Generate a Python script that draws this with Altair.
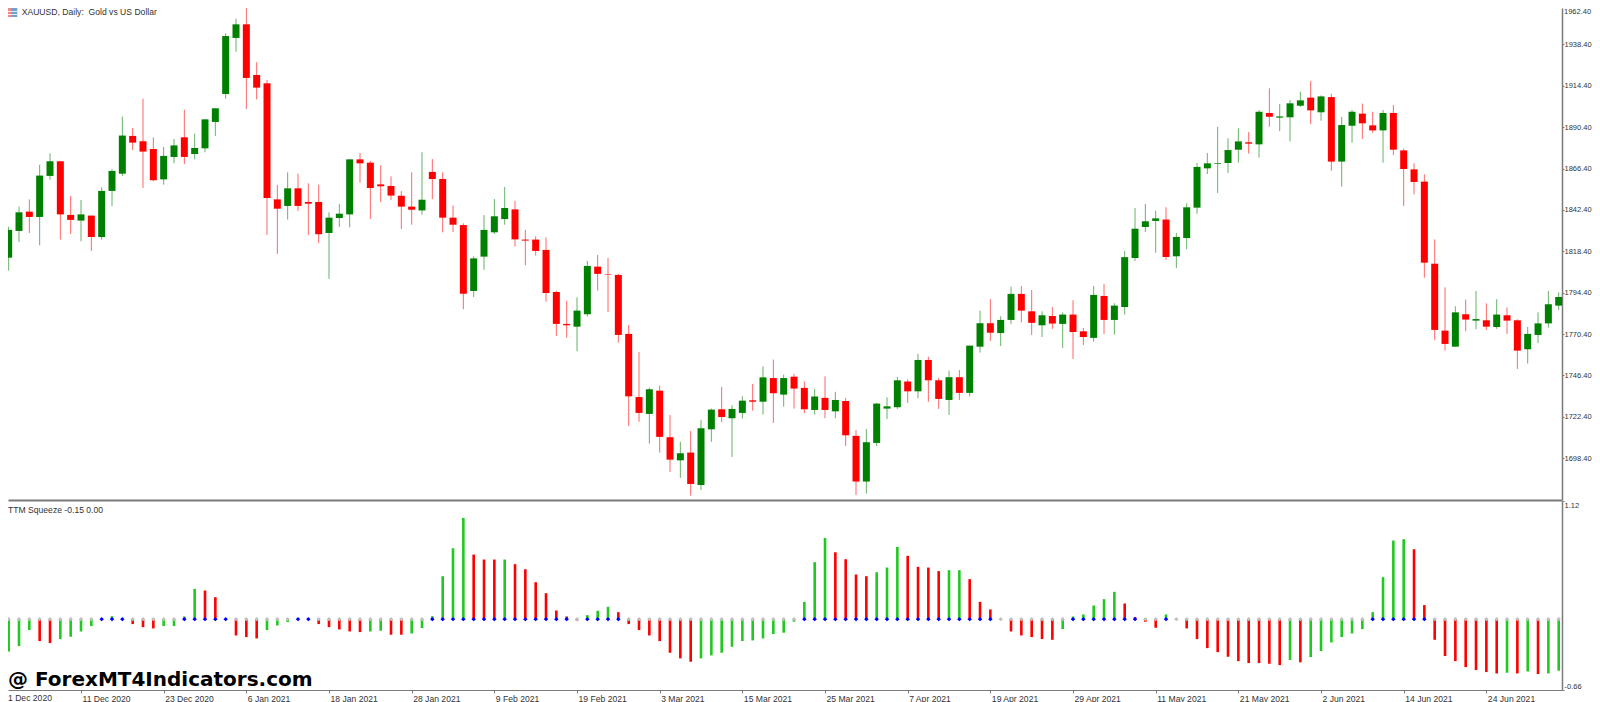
import altair as alt
import pandas as pd

opens = [1781.5,1814.7,1830.2,1841.4,1838.3,1862.1,1870.6,1839.5,1836.2,1839.1,
1826.7,1853.4,1863.4,1885.3,1882.2,1877.7,1860.1,1873.1,1884.5,1874.8,
1878.1,1893.4,1909.6,1942.1,1950.0,1920.6,1915.8,1848.5,1844.7,1854.9,
1847.0,1847.0,1829.0,1837.7,1839.8,1871.7,1869.8,1857.2,1856.3,1850.6,
1844.3,1842.1,1864.4,1860.3,1837.9,1833.6,1795.4,1815.3,1829.4,1837.1,
1842.7,1825.2,1825.2,1819.2,1794.8,1776.3,1774.7,1781.9,1809.5,1805.0,
1804.7,1770.5,1733.9,1724.1,1737.6,1710.6,1697.2,1701.7,1682.9,1715.2,
1726.8,1721.6,1724.7,1732.0,1731.2,1744.9,1735.3,1745.7,1739.2,1726.4,
1733.4,1725.6,1731.6,1711.4,1684.9,1707.3,1727.2,1728.0,1742.9,1737.2,
1755.4,1743.6,1732.2,1745.4,1736.3,1763.1,1776.7,1771.0,1778.6,1793.7,
1783.6,1775.5,1780.9,1776.3,1781.7,1772.0,1768.2,1792.5,1778.6,1786.1,
1814.5,1832.5,1836.0,1836.8,1815.5,1826.1,1843.7,1866.5,1869.0,1869.6,
1877.3,1881.6,1880.4,1898.6,1895.9,1896.1,1902.8,1907.5,1899.0,1907.8,
1870.4,1891.2,1898.2,1891.4,1888.5,1898.6,1876.9,1865.9,1858.8,1811.2,
1772.4,1763.1,1781.9,1778.2,1778.4,1774.5,1781.3,1778.4,1761.6,1769.9,
1776.6,1786.9]

highs = [1817.2,1832.7,1844.3,1848.5,1868.6,1875.2,1870.6,1850.5,1848.2,1839.1,
1855.5,1866.1,1896.5,1889.9,1906.9,1884.5,1878.9,1883.5,1900.5,1886.6,
1894.9,1901.3,1944.8,1953.3,1959.8,1928.0,1917.7,1856.9,1864.2,1863.4,
1857.8,1857.0,1841.0,1845.8,1871.7,1875.4,1870.8,1868.3,1861.9,1853.3,
1864.2,1875.8,1871.9,1864.2,1845.0,1834.6,1815.5,1839.4,1848.7,1855.7,
1847.6,1830.8,1827.1,1826.5,1795.4,1789.6,1791.7,1812.8,1816.3,1814.5,
1805.3,1775.7,1760.0,1739.3,1740.5,1723.5,1707.9,1714.2,1720.6,1727.2,
1739.7,1729.1,1734.3,1741.5,1751.7,1755.6,1746.9,1747.3,1742.9,1738.6,
1745.9,1736.9,1733.4,1714.8,1715.4,1730.5,1733.8,1745.5,1744.2,1758.9,
1757.3,1745.0,1749.2,1749.6,1763.7,1784.0,1790.6,1780.7,1797.9,1798.3,
1796.0,1783.6,1786.1,1783.0,1790.0,1774.0,1798.3,1799.5,1788.3,1818.6,
1843.5,1845.9,1842.0,1843.9,1829.0,1846.2,1869.6,1875.4,1890.5,1883.9,
1889.7,1887.6,1900.3,1912.9,1903.8,1906.1,1910.9,1917.1,1908.8,1909.8,
1896.3,1900.3,1904.0,1899.3,1900.3,1903.2,1877.9,1869.4,1863.0,1825.3,
1797.5,1786.5,1790.4,1795.4,1788.2,1790.6,1785.9,1779.0,1774.5,1783.0,
1795.4,1794.6]

lows = [1778.6,1807.2,1823.8,1829.0,1821.9,1859.9,1825.2,1828.4,1824.2,1818.6,
1825.2,1844.7,1862.1,1877.1,1855.1,1859.0,1857.0,1869.4,1869.0,1871.7,
1875.8,1885.3,1906.9,1934.1,1900.9,1906.5,1827.9,1816.9,1836.8,1841.8,
1827.9,1823.2,1802.4,1832.5,1832.3,1858.2,1837.1,1847.0,1848.2,1831.3,
1833.8,1839.6,1848.7,1829.4,1829.6,1784.8,1791.9,1807.6,1828.4,1833.8,
1821.1,1810.3,1815.9,1789.2,1769.3,1768.2,1760.4,1780.5,1795.6,1783.2,
1765.4,1717.1,1719.5,1706.9,1701.7,1690.5,1687.0,1676.7,1680.0,1707.9,
1719.3,1699.2,1721.4,1726.0,1723.7,1718.9,1728.3,1727.2,1724.5,1723.7,
1721.6,1721.6,1705.5,1677.1,1677.9,1705.5,1721.2,1727.0,1730.5,1733.2,
1731.2,1727.0,1723.5,1732.2,1734.2,1759.7,1766.4,1763.5,1776.3,1777.2,
1769.9,1768.7,1773.4,1762.4,1756.0,1764.1,1766.0,1770.5,1770.1,1781.7,
1812.8,1829.6,1817.6,1813.4,1808.7,1819.6,1840.2,1863.2,1852.2,1863.8,
1869.8,1875.0,1872.7,1890.6,1888.1,1882.1,1902.1,1892.2,1894.1,1865.1,
1855.9,1881.4,1883.5,1887.0,1869.8,1874.2,1844.7,1851.4,1803.1,1767.0,
1760.8,1763.1,1772.0,1773.2,1772.8,1773.4,1770.5,1750.2,1753.3,1765.2,
1774.1,1784.4]

closes = [1815.3,1830.8,1841.0,1838.3,1862.3,1870.6,1839.8,1836.6,1839.8,1826.7,
1853.4,1865.0,1885.5,1881.4,1876.2,1859.6,1873.7,1879.8,1873.1,1878.3,
1894.9,1901.3,1943.2,1950.0,1918.9,1913.3,1849.3,1843.1,1854.9,1844.7,
1846.0,1828.3,1837.9,1840.2,1871.7,1869.4,1855.1,1856.1,1850.7,1844.3,
1842.5,1848.3,1860.3,1837.9,1833.8,1793.8,1814.3,1830.8,1838.7,1843.5,
1825.3,1824.6,1818.6,1794.2,1776.3,1775.5,1784.0,1809.9,1805.3,1804.7,
1769.9,1734.3,1724.7,1738.4,1710.8,1697.6,1701.3,1683.5,1715.8,1726.6,
1722.3,1727.0,1731.8,1731.2,1745.3,1736.1,1744.9,1738.8,1726.8,1734.2,
1726.4,1732.2,1711.7,1684.9,1707.7,1730.1,1728.5,1743.6,1737.2,1755.4,
1743.6,1732.8,1745.4,1736.3,1763.7,1776.7,1771.2,1778.6,1793.7,1784.0,
1776.9,1781.3,1776.5,1781.7,1771.6,1768.7,1793.1,1778.6,1786.9,1815.0,
1831.5,1835.8,1837.5,1815.1,1826.7,1843.9,1867.3,1869.4,1869.4,1877.1,
1882.1,1880.8,1899.3,1896.4,1896.6,1904.2,1905.9,1900.1,1908.2,1870.4,
1891.6,1899.3,1892.6,1888.5,1898.6,1877.3,1866.1,1858.6,1811.8,1772.8,
1764.7,1783.0,1778.8,1779.1,1774.7,1781.7,1778.2,1760.8,1770.5,1776.6,
1787.7,1791.9]

squeeze = [-0.300,-0.306,-0.256,-0.104,-0.208,-0.227,-0.189,-0.167,-0.117,-0.066,
0.000,0.028,0.000,-0.047,-0.076,-0.088,-0.066,-0.066,0.025,0.287,
0.271,0.208,0.000,-0.155,-0.170,-0.183,-0.104,-0.060,-0.028,0.000,
0.000,-0.047,-0.076,-0.098,-0.117,-0.123,-0.117,-0.110,-0.148,-0.148,
-0.136,-0.085,0.028,0.407,0.672,0.960,0.612,0.565,0.565,0.565,
0.521,0.473,0.350,0.246,0.082,0.025,-0.015,0.038,0.079,0.117,
0.066,-0.047,-0.104,-0.155,-0.208,-0.319,-0.372,-0.404,-0.372,-0.344,
-0.319,-0.262,-0.208,-0.202,-0.183,-0.142,-0.129,-0.025,0.164,0.540,
0.770,0.634,0.568,0.423,0.407,0.445,0.489,0.685,0.600,0.496,
0.489,0.455,0.464,0.464,0.379,0.164,0.092,0.000,-0.117,-0.155,
-0.170,-0.189,-0.196,-0.095,0.025,0.044,0.129,0.189,0.259,0.148,
0.019,-0.025,-0.082,0.044,0.000,-0.088,-0.189,-0.275,-0.313,-0.357,
-0.398,-0.417,-0.417,-0.423,-0.436,-0.388,-0.410,-0.360,-0.303,-0.221,
-0.170,-0.136,-0.095,0.066,0.398,0.745,0.758,0.663,0.133,-0.196,
-0.350,-0.398,-0.455,-0.483,-0.502,-0.515,-0.508,-0.515,-0.496,-0.521,
-0.515,-0.489]

bar_tones = list("GGGGRRGGGG" "GGGRRRGGGG" "RRRRRRGGGG" "GRRRRRGGRR" "GGGGGGRRRG"
                 "RRRRRRRGGG" "RRRRRRRRGG" "GGGGGGGGGG" "GRRRRGGGRR" "RRGGRRRRRR"
                 "RRRGGGGGGR" "RRRGRRRRRR" "RRRRRGRGGG" "GGGGGGGRRR" "RRRRRRGRGR" "GG")
dot_tones = list("OOOOOOOOOO" "BBBOOOOOBB" "BBBOOOOOOB" "BOOOOOOOOO" "OOBBBBBBBB"
                 "BBBBBBOBBB" "BOOOOOOOOO" "OOOOOOOOBB" "BBBBBBBBBB" "BBBBBBBOOO"
                 "OOOOBBBBBB" "BOOBOOOOOO" "OOOOOOOOOO" "OOOBBBBBBO" "OOOOOOOOOO" "OO")

date_labels = ["1 Dec 2020","11 Dec 2020","23 Dec 2020","6 Jan 2021","18 Jan 2021","28 Jan 2021",
               "9 Feb 2021","19 Feb 2021","3 Mar 2021","15 Mar 2021","25 Mar 2021","7 Apr 2021",
               "19 Apr 2021","29 Apr 2021","11 May 2021","21 May 2021","2 Jun 2021","14 Jun 2021",
               "24 Jun 2021"]
date_bars = [k * 8 for k in range(len(date_labels))]
price_ticks = [1698.4, 1722.4, 1746.4, 1770.4, 1794.4, 1818.4, 1842.4, 1866.4, 1890.4, 1914.4, 1938.4]

FONT = "Liberation Sans"
FS = 8.6
FS_RIGHT = 7.5
TEXT = "#333333"
AXIS = "#7a7a7a"
W, H_TOP, H_BOT = 1554, 492, 189
X_DOMAIN = [0.9355, 151.32]

candles = pd.DataFrame({"i": range(len(opens)), "o": opens, "h": highs, "l": lows, "c": closes})
candles["tone"] = ["up" if c >= o else "down" for o, c in zip(opens, closes)]
osc = pd.DataFrame({"i": range(len(squeeze)), "v": squeeze, "bar": bar_tones, "dot": dot_tones})
osc["zero"] = 0.0

x_scale = alt.Scale(domain=X_DOMAIN, nice=False, zero=False, padding=0)
y_top = alt.Scale(domain=[1674.2, 1959.46], nice=False, zero=False)
y_bot = alt.Scale(domain=[-0.672, 1.12], nice=False, zero=False)
tone_color = alt.Color("tone:N", scale=alt.Scale(domain=["up", "down"], range=["#008000", "#ff0000"]), legend=None)

x_axis_top = alt.Axis(labels=False, ticks=False, title=None, grid=False, domainColor=AXIS, domainWidth=2)
y_axis_top = alt.Axis(orient="right", values=price_ticks, format=".2f", title=None, grid=False,
                      tickSize=2, tickColor=AXIS, domainColor=AXIS, domainWidth=1.5, labelPadding=0,
                      labelFont=FONT, labelFontSize=FS_RIGHT, labelColor=TEXT)
x_axis_bot = alt.Axis(values=date_bars[1:], title=None, grid=False, tickSize=3, tickColor=AXIS,
                      domainColor=AXIS, domainWidth=1, labelAlign="left", labelPadding=1, labelOffset=1,
                      labelFont=FONT, labelFontSize=FS, labelColor=TEXT,
                      labelExpr="[" + ",".join("'%s'" % d for d in date_labels) + "][datum.value / 8]")
y_axis_bot = alt.Axis(orient="right", values=[-0.672, 1.12], title=None, grid=False, tickSize=2,
                      tickColor=AXIS, domainColor=AXIS, domainWidth=1.5, labelPadding=0, labelFlush=True,
                      labelFont=FONT, labelFontSize=FS_RIGHT, labelColor=TEXT,
                      labelExpr="datum.value < 0 ? '-0.66' : '1.12'")


def label(text, x, y, size=FS, weight="normal", color=TEXT, align="left", baseline="middle", font=FONT):
    return alt.Chart(pd.DataFrame({"t": [text]})).mark_text(
        align=align, baseline=baseline, font=font, fontSize=size, fontWeight=weight, color=color, clip=False
    ).encode(text="t:N", x=alt.value(x), y=alt.value(y))


def icon_part(x0, x1, y0, y1, color):
    return alt.Chart(pd.DataFrame({"a": [0]})).mark_rect(color=color).encode(
        x=alt.value(x0), x2=alt.value(x1), y=alt.value(y0), y2=alt.value(y1))


wicks = alt.Chart(candles).mark_rule(strokeWidth=1, opacity=0.6, clip=True).encode(
    x=alt.X("i:Q", scale=x_scale, axis=x_axis_top),
    y=alt.Y("l:Q", scale=y_top, axis=y_axis_top),
    y2="h:Q",
    color=tone_color,
)
bodies = alt.Chart(candles).mark_bar(size=7, clip=True).encode(
    x=alt.X("i:Q", scale=x_scale, axis=x_axis_top),
    y=alt.Y("o:Q", scale=y_top, axis=y_axis_top),
    y2="c:Q",
    color=tone_color,
)

price_panel = alt.layer(
    wicks,
    bodies,
    icon_part(0, 3, 0, 9, "#f08a8a"),
    icon_part(3, 9.3, 0, 9, "#6fa3d8"),
    icon_part(0, 9.3, 3, 3.8, "#ffffff"),
    icon_part(0, 9.3, 6, 6.8, "#ffffff"),
    label("XAUUSD, Daily:\u00a0 Gold vs US Dollar", 13.7, 0, baseline="top"),
    label("1962.40", W + 2, 0, size=FS_RIGHT, baseline="top"),
).properties(width=W, height=H_TOP)

bars = alt.Chart(osc).mark_rule(strokeWidth=2.6, clip=True).encode(
    x=alt.X("i:Q", scale=x_scale, axis=x_axis_bot),
    y=alt.Y("v:Q", scale=y_bot, axis=y_axis_bot),
    y2="zero:Q",
    color=alt.Color("bar:N", scale=alt.Scale(domain=["G", "R"], range=["#22c822", "#ff0000"]), legend=None),
)
dots = alt.Chart(osc).mark_point(shape="diamond", filled=True, size=20, opacity=1, clip=True).encode(
    x=alt.X("i:Q", scale=x_scale, axis=x_axis_bot),
    y=alt.Y("zero:Q", scale=y_bot, axis=y_axis_bot),
    color=alt.Color("dot:N", scale=alt.Scale(domain=["B", "O"], range=["#0000ff", "#c0c0c0"]), legend=None),
)

osc_panel = alt.layer(
    bars,
    dots,
    label("TTM Squeeze -0.15 0.00", 0, 9),
    label("@ ForexMT4Indicators.com", 0, 179, size=20, weight="bold", color="#000000", font="DejaVu Sans"),
    label("1 Dec 2020", 0, H_BOT + 8.3),
).resolve_scale(color="independent").properties(width=W, height=H_BOT)

chart = alt.vconcat(price_panel, osc_panel, spacing=0).properties(
    padding=0, background="white"
).configure_view(stroke=None)

chart.save("out.html", embed_options={"renderer": "svg", "actions": False})
